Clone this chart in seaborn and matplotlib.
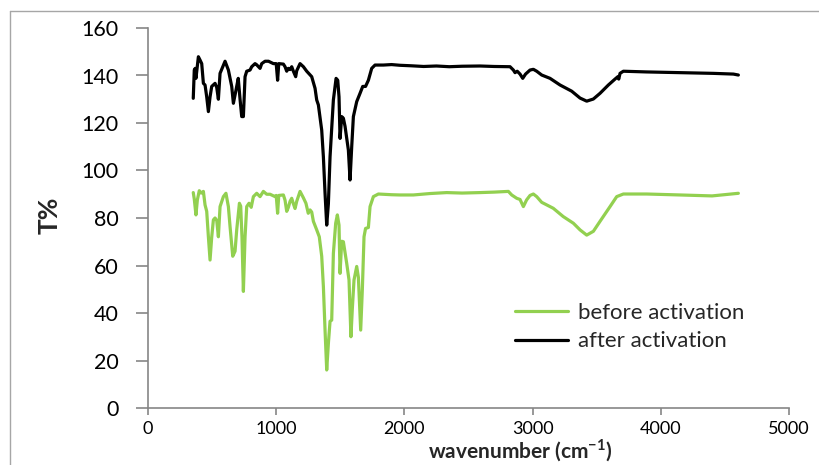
import matplotlib
matplotlib.use("Agg")
import matplotlib.pyplot as plt
import seaborn as sns
import pandas as pd
from matplotlib.lines import Line2D

# ---- data ----
wn_after = [353, 361, 368, 374, 393, 406, 419, 432, 445, 458, 471, 484, 497, 523, 536, 549, 562, 601,
            627, 653, 666, 687, 704, 718, 731, 744, 757, 770, 796, 809, 835, 848, 874, 887, 913, 940,
            978, 1000, 1011, 1020, 1056, 1069, 1082, 1095, 1108, 1121, 1134, 1152, 1160, 1186, 1212,
            1238, 1277, 1303, 1316, 1329, 1355, 1368, 1381, 1394, 1407, 1420, 1446, 1467, 1480, 1490,
            1498, 1511, 1524, 1537, 1563, 1576, 1589, 1602, 1628, 1654, 1675, 1697, 1719, 1745, 1771,
            1836, 1900, 1966, 2050, 2150, 2250, 2350, 2450, 2590, 2700, 2824, 2850, 2863, 2880, 2902,
            2923, 2945, 2980, 3006, 3032, 3071, 3136, 3214, 3305, 3370, 3422, 3474, 3526, 3591, 3643,
            3665, 3672, 3682, 3708, 3890, 4150, 4410, 4566, 4605]
t_after = [130.4, 142.3, 143, 138.8, 147.9, 146.5, 145, 136.7, 136, 131, 124.8, 131, 135.4, 136.7, 135,
           130, 140.9, 146, 142.3, 135.4, 128.3, 134, 138.8, 130, 122.7, 122.7, 139.5, 141.8, 142.3,
           143.7, 145, 144.5, 143, 145, 146, 146, 145, 145, 138, 145, 144.8, 143.7, 141.8, 143, 142.5,
           143.7, 141.8, 139.5, 142, 145, 143.7, 141.8, 139.5, 134.6, 129.7, 127.6, 117, 105.8, 90.4,
           77, 86, 105.8, 129.7, 138.8, 138, 131, 113.5, 122.7, 122, 118.6, 108.6, 96, 110, 122.7, 129,
           132.5, 135.4, 135.4, 138, 143, 144.4, 144.4, 144.6, 144.3, 144.1, 143.8, 144, 143.7, 143.9,
           144, 143.8, 143.7, 142.3, 141.2, 141.8, 140.6, 138.8, 140.6, 142.3, 142.6, 141.8, 140.2,
           138.8, 136, 133.4, 130.5, 129.2, 130.1, 132.5, 136, 138.5, 139.5, 138.5, 140.9, 141.8,
           141.5, 141.2, 140.9, 140.6, 140.2]

wn_before = [353, 361, 374, 385, 400, 415, 432, 445, 458, 471, 484, 497, 510, 523, 536, 549, 562, 588,
             608, 627, 640, 661, 679, 692, 713, 723, 733, 744, 757, 770, 788, 805, 822, 848, 874, 900,
             926, 952, 991, 1000, 1011, 1020, 1056, 1069, 1082, 1095, 1108, 1121, 1134, 1147, 1160,
             1186, 1212, 1232, 1250, 1264, 1277, 1290, 1316, 1336, 1355, 1368, 1381, 1394, 1407, 1420,
             1433, 1446, 1464, 1477, 1490, 1498, 1511, 1524, 1550, 1568, 1583, 1594, 1607, 1628, 1641,
             1659, 1672, 1685, 1697, 1719, 1732, 1758, 1797, 1900, 1966, 2070, 2200, 2330, 2450, 2590,
             2700, 2811, 2837, 2876, 2902, 2928, 2953, 2980, 3006, 3032, 3071, 3161, 3239, 3318, 3370,
             3422, 3474, 3526, 3604, 3656, 3708, 3890, 4150, 4400, 4605]
t_before = [90.7, 88, 81.3, 87.6, 91.5, 90.5, 91.2, 85.5, 82.8, 72.1, 62.3, 72, 79.2, 80, 79, 72.1,
            84.8, 89, 90.4, 84.8, 76.4, 63.9, 66, 75, 86.2, 85, 72.1, 49.1, 72, 84.8, 86.2, 84.5, 89,
            90.4, 89, 91.2, 90, 90, 89, 89.5, 82, 89.5, 89.7, 87.5, 82.8, 84.5, 87, 88.3, 86, 84, 87,
            91.2, 88.5, 86.2, 82, 83.4, 82.5, 78.6, 75, 72.1, 63.9, 51.2, 32.8, 16, 27.2, 36.5, 37,
            65.1, 77.8, 81.3, 77, 56.7, 70.2, 70, 60.9, 53.9, 30, 42, 53.9, 59.6, 55, 32.8, 50, 72.1,
            75.6, 76, 84.8, 89, 90.1, 89.8, 89.7, 89.7, 90.3, 90.7, 90.5, 90.7, 90.9, 91.2, 89.7, 88.3,
            87.8, 84.8, 87.6, 89.5, 90.1, 89, 86.6, 84.1, 80.6, 77.8, 75, 72.8, 74.4, 78.6, 84.8, 89,
            90.1, 90.1, 89.7, 89.3, 90.4]

series_labels = ["before activation", "after activation"]
x_ticks = [0, 1000, 2000, 3000, 4000, 5000]
y_ticks = [0, 20, 40, 60, 80, 100, 120, 140, 160]

# ---- style ----
sns.set_theme(style="white")
plt.rcParams["font.family"] = ["Lato", "DejaVu Sans"]
plt.rcParams["mathtext.fontset"] = "custom"
plt.rcParams["mathtext.rm"] = "Lato"
plt.rcParams["mathtext.bf"] = "Lato:bold"

GREEN = "#92D050"
GRAY = "#868686"

fig = plt.figure(figsize=(8.2, 4.65), dpi=100)
ax = fig.add_axes([148 / 820, 1 - 408 / 465, (789 - 148) / 820, (408 - 28) / 465])

df_b = pd.DataFrame({"wn": wn_before, "T": t_before})
df_a = pd.DataFrame({"wn": wn_after, "T": t_after})
sns.lineplot(data=df_b, x="wn", y="T", ax=ax, color=GREEN, lw=2.3, sort=False,
             label=series_labels[0], estimator=None)
sns.lineplot(data=df_a, x="wn", y="T", ax=ax, color="black", lw=2.3, sort=False,
             label=series_labels[1], estimator=None)

ax.set_xlim(0, 5000)
ax.set_ylim(0, 160)
ax.set_xticks(x_ticks)
ax.set_yticks(y_ticks)
ax.set_xticklabels([str(v) for v in x_ticks], fontsize=13)
ax.set_yticklabels([str(v) for v in y_ticks], fontsize=15.5)

for s in ["top", "right"]:
    ax.spines[s].set_visible(False)
for s in ["left", "bottom"]:
    ax.spines[s].set_color(GRAY)
    ax.spines[s].set_linewidth(1.2)

ax.tick_params(axis="y", direction="out", length=9, width=1.2, color=GRAY, pad=12,
               left=True, labelcolor="black")
ax.tick_params(axis="x", direction="out", length=5, width=1.2, color=GRAY, pad=4,
               bottom=True, labelcolor="black")

ax.set_xlabel("")
ax.set_ylabel("")
fig.text(50 / 820, 1 - 215 / 465, "T%", rotation=90, fontsize=19, fontweight="bold",
         ha="center", va="center")
fig.text(520 / 820, 1 - 451 / 465, r"wavenumber (cm$^{\mathbf{-1}}$)", fontsize=15,
         fontweight="bold", ha="center", va="center")

leg = ax.legend(loc="upper left", bbox_to_anchor=(515 / 820, 1 - 303 / 465),
                bbox_transform=fig.transFigure, frameon=False, fontsize=16,
                handlelength=2.4, handletextpad=0.45, labelspacing=0.38, borderpad=0,
                borderaxespad=0)

# outer border (top and left only visible in the reference crop)
fig.add_artist(Line2D([10 / 820, 10 / 820], [0, 1 - 11 / 465], transform=fig.transFigure,
                      color="#A6A6A6", lw=1))
fig.add_artist(Line2D([10 / 820, 1], [1 - 11 / 465, 1 - 11 / 465], transform=fig.transFigure,
                      color="#A6A6A6", lw=1))

fig.savefig("out.png", dpi=100)
